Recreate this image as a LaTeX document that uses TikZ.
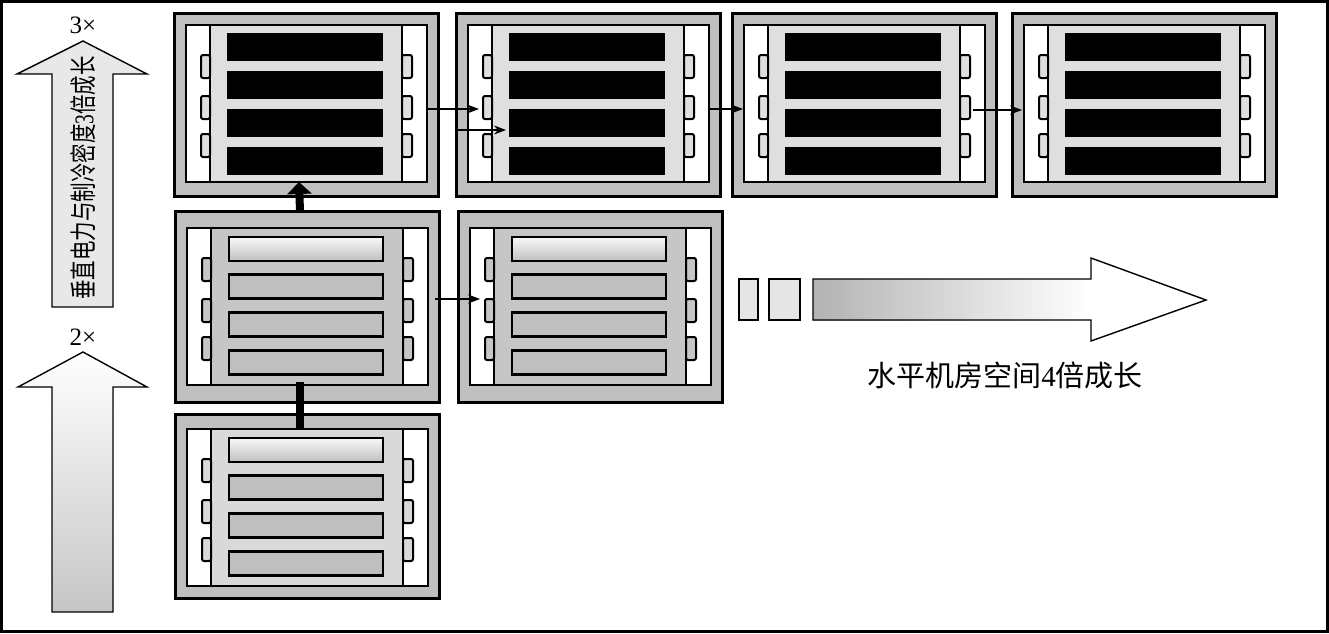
\documentclass[tikz,border=0pt]{standalone}
\usepackage{graphicx}
\usepackage{fontspec}
\setmainfont{Liberation Serif}
\newfontfamily\cjk{Noto Sans CJK SC}
\usetikzlibrary{arrows.meta}

\tikzset{
  rackframe/.style={draw, line width=1.5pt, fill=gray!50, inner sep=0pt, outer sep=0pt,
    minimum width=132pt, anchor=north west},
  rackline/.style={draw, line width=1.4pt},
  tabline/.style={draw, line width=1pt, rounded corners=1pt},
  flow/.style={line width=0.6pt, -{Stealth[length=6pt, width=4.5pt]}},
  riser/.style={line width=4pt},
  bigarrow/.style={draw, line width=0.7pt, line join=miter},
}

% inner part of a rack: #1 inner top, #2 middle fill
\newcommand{\rackbody}[2]{%
  \draw[rackline, fill=#2] (12,#1) rectangle (253,#1+157);
  \draw[rackline, fill=white] (12,#1) rectangle (36,#1+157);
  \draw[rackline, fill=white] (228,#1) rectangle (253,#1+157);
  \foreach \ty in {30,71,109} {
    \draw[tabline, fill=#2] (27,#1+\ty) rectangle (36,#1+\ty+23);
    \draw[tabline, fill=#2] (228,#1+\ty) rectangle (238,#1+\ty+23);
  }
}

% full rack with black slots: name, x, y
\newcommand{\blackrack}[3]{%
  \node[rackframe, minimum height=91.5pt] (#1) at (#2,#3) {};
  \begin{scope}[shift={(#2,#3)}]
    \rackbody{12}{gray!25}
    \foreach \slot in {0,...,3}
      \fill[black] (53,20+38*\slot) rectangle (209,48+38*\slot);
  \end{scope}}

% rack with gray slots: name, x, y, height, inner top, middle fill
\newcommand{\grayrack}[6]{%
  \node[rackframe, minimum height=#4*0.5pt] (#1) at (#2,#3) {};
  \begin{scope}[shift={(#2,#3)}]
    \rackbody{#5}{#6}
    \foreach \slot in {1,...,3}
      \draw[rackline, fill=gray!50] (54,#5+9+37.7*\slot) rectangle (208,#5+33+37.7*\slot);
    \shade[rackline, top color=gray!5, bottom color=gray!50] (54,#5+9) rectangle (208,#5+33);
  \end{scope}}

\begin{document}
\begin{tikzpicture}[x=0.5pt, y=-0.5pt]
  \useasboundingbox (0,0) rectangle (1329,633);
  % Frame
  \draw[line width=1.5pt] (1.5,1.5) rectangle (1327.5,631.5);

  % Vertical growth arrows
  \path[bigarrow, fill=gray!18] (52,307) -- (52,74) -- (17,74) -- (83,41) -- (147,74)
    -- (113,74) -- (113,307) -- cycle;
  \shade[bigarrow, top color=white, bottom color=gray!45] (52,612) -- (52,387) -- (18,387)
    -- (83,352) -- (147,387) -- (113,387) -- (113,612) -- cycle;
  \node[font=\fontsize{12.5}{14}\selectfont] (lblthree) at (83,25) {3×};
  \node[font=\fontsize{12.5}{14}\selectfont] (lbltwo) at (83,337) {2×};
  \node[rotate=90, font=\fontsize{13.5}{16}\selectfont] (vtext) at (83,178)
    {\scalebox{0.72}[1]{{\cjk 垂直电力与制冷密度}3{\cjk 倍成长}}};

  % Racks
  \blackrack{rA}{174}{13}
  \blackrack{rE}{456}{13}
  \blackrack{rF}{732}{13}
  \blackrack{rG}{1012}{13}
  \grayrack{rB}{175}{211}{191}{17}{gray!45}
  \grayrack{rD}{458}{211}{191}{17}{gray!45}
  \grayrack{rC}{175}{414}{184}{15}{gray!30}

  % Stacking
  \draw[riser, -{Triangle[width=12pt, length=6pt]}] ([xshift=-3.5pt]rB.north)
    -- ([xshift=-3.5pt, yshift=7pt]rA.south);
  \draw[riser] ([xshift=-3.5pt, yshift=10pt]rB.south) -- ([xshift=-3.5pt, yshift=-7.5pt]rC.north);

  % Row links
  \draw[flow] ([xshift=-5.5pt, yshift=-2.25pt]rA.east) -- ([xshift=11.5pt, yshift=-2.25pt]rE.west);
  \draw[flow] ([yshift=-12.75pt]rE.west) -- ([xshift=25pt, yshift=-12.75pt]rE.west);
  \draw[flow] ([xshift=-6pt, yshift=-2.25pt]rE.east) -- ([xshift=5.5pt, yshift=-2.25pt]rF.west);
  \draw[flow] ([xshift=-11.5pt, yshift=-2.75pt]rF.east) -- ([xshift=5pt, yshift=-2.75pt]rG.west);
  \draw[flow] ([xshift=-2pt, yshift=3.75pt]rB.east) -- ([xshift=11pt, yshift=3.75pt]rD.west);

  % Horizontal growth arrow
  \draw[line width=0.7pt, fill=gray!20] (739,279) rectangle (758,320);
  \draw[line width=0.7pt, fill=gray!20] (769,279) rectangle (800,320);
  \shade[left color=gray!60, right color=white] (813,279) rectangle (1091,320);
  \draw[bigarrow] (813,279) -- (1091,279) -- (1091,258) -- (1206,300) -- (1091,341)
    -- (1091,320) -- (813,320) -- cycle;
  \node[font=\fontsize{14.5}{16}\selectfont] (htext) at (1005,375)
    {{\cjk 水平机房空间}4{\cjk 倍成长}};
\end{tikzpicture}
\end{document}
